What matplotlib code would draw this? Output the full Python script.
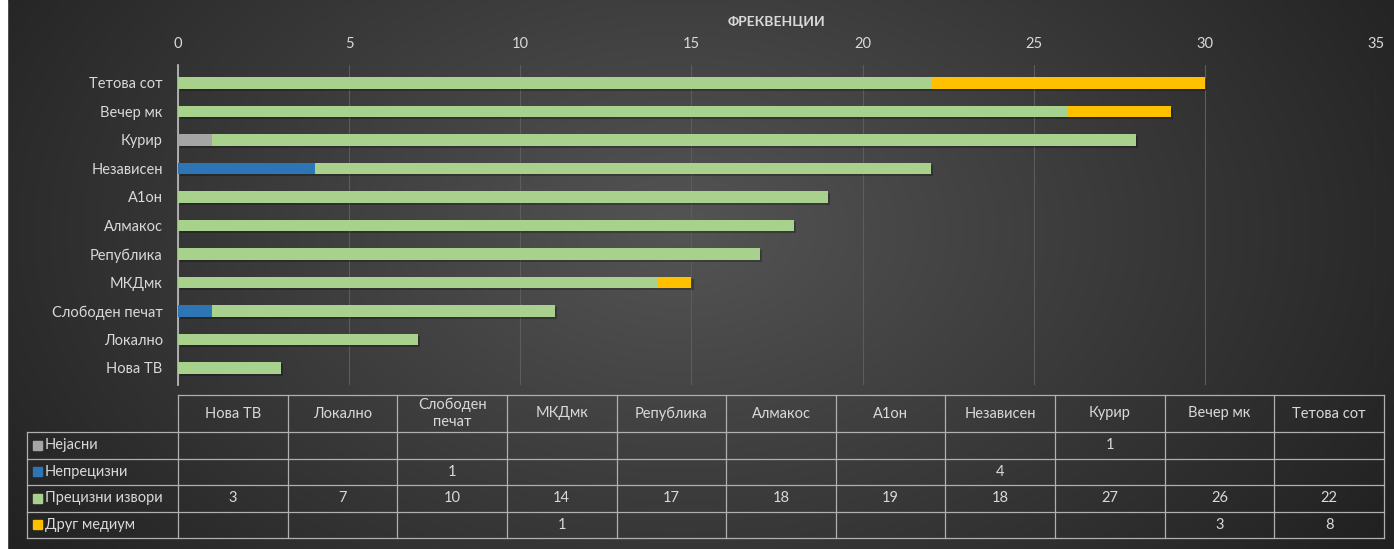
import numpy as np
import matplotlib
matplotlib.use("Agg")
import matplotlib.pyplot as plt
from matplotlib.patches import Rectangle
import matplotlib.patheffects as pe

plt.rcParams['font.family'] = ['Lato', 'DejaVu Sans']

# ---- data ----
outlets = ["Нова ТВ", "Локално", "Слободен печат", "МКДмк", "Република",
           "Алмакос", "А1он", "Независен", "Курир", "Вечер мк", "Тетова сот"]
table_headers = ["Нова ТВ", "Локално", "Слободен\nпечат", "МКДмк", "Република",
                 "Алмакос", "А1он", "Независен", "Курир", "Вечер мк", "Тетова сот"]
series_names = ["Нејасни", "Непрецизни", "Прецизни извори", "Друг медиум"]
unclear = [0, 0, 0, 0, 0, 0, 0, 0, 1, 0, 0]
imprecise = [0, 0, 1, 0, 0, 0, 0, 4, 0, 0, 0]
precise = [3, 7, 10, 14, 17, 18, 19, 18, 27, 26, 22]
other_media = [0, 0, 0, 1, 0, 0, 0, 0, 0, 3, 8]
colors = ["#A5A5A5", "#2E75B6", "#A9D18E", "#FFC000"]
x_ticks = [0, 5, 10, 15, 20, 25, 30, 35]
axis_title = "ФРЕКВЕНЦИИ"

W, H = 1394, 549
fig = plt.figure(figsize=(W / 100, H / 100), dpi=100)
txt_col = '#d9d9d9'
fs = 10.5

# ---- background radial gradient ----
bg = fig.add_axes([0, 0, 1, 1])
yy, xx = np.mgrid[0:H, 0:W]
cx, cy = 680, 230
r = np.sqrt(((xx - cx) / 800.0) ** 2 + ((yy - cy) / 520.0) ** 2)
v = np.clip(0.33 - 0.19 * r, 0.13, 0.35)
img = np.dstack([v, v, v])
bg.imshow(img, extent=[0, W, H, 0], aspect='auto')
bg.add_patch(Rectangle((0, 0), 7, H, color='white', zorder=3))
bg.set_xlim(0, W)
bg.set_ylim(H, 0)
bg.axis('off')

# ---- main bar axes ----
left, right, top, bottom = 178, 1376, 65, 385
ax = fig.add_axes([left / W, 1 - bottom / H, (right - left) / W, (bottom - top) / H])
ax.patch.set_alpha(0)
y = np.arange(len(outlets))
series = [unclear, imprecise, precise, other_media]
base = np.zeros(len(outlets))
shadow = [pe.SimplePatchShadow(offset=(1.5, -1.5), shadow_rgbFace='black', alpha=0.25), pe.Normal()]
for vals, c in zip(series, colors):
    vals = np.array(vals, dtype=float)
    bars = ax.barh(y, vals, left=base, height=0.4, color=c, zorder=3, linewidth=0)
    for b in bars:
        b.set_path_effects(shadow)
    base += vals
ax.set_xlim(0, 35)
ax.set_ylim(-0.6, len(outlets) - 1 + 0.63)
ax.set_yticks(y)
ax.set_yticklabels(outlets)
ax.set_xticks(x_ticks)
ax.xaxis.tick_top()
ax.tick_params(axis='x', colors=txt_col, labelsize=fs, length=0, pad=10)
ax.tick_params(axis='y', colors=txt_col, labelsize=fs, length=0, pad=11)
ax.grid(axis='x', color='#5c5c5c', linewidth=0.8, zorder=0)
for s in ['top', 'right', 'bottom']:
    ax.spines[s].set_visible(False)
ax.spines['left'].set_color('#bfbfbf')
ax.spines['left'].set_linestyle((0, (2, 1)))
ax.spines['left'].set_linewidth(1.2)
fig.text((left + right) / 2 / W, 1 - 22 / H, axis_title, color=txt_col,
         fontsize=10, fontweight='bold', ha='center', va='center')

# ---- data table ----
tb = bg
col_w = (1384 - 178) / 11.0
x0 = 178
lab_x0 = 27
hdr_top, hdr_bot = 395, 432
row_h = 26.5
line_kw = dict(color='#b0b0b0', linewidth=0.9, zorder=4)
table_bottom = hdr_bot + 4 * row_h
tb.plot([x0, x0 + 11 * col_w], [hdr_top, hdr_top], **line_kw)
for i in range(5):
    yl = hdr_bot + i * row_h
    tb.plot([lab_x0, x0 + 11 * col_w], [yl, yl], **line_kw)
for j in range(12):
    xl = x0 + j * col_w
    tb.plot([xl, xl], [hdr_top, table_bottom], **line_kw)
tb.plot([lab_x0, lab_x0], [hdr_bot, table_bottom], **line_kw)
for j, h in enumerate(table_headers):
    tb.text(x0 + (j + 0.5) * col_w, (hdr_top + hdr_bot) / 2, h, color=txt_col,
            fontsize=fs, ha='center', va='center', linespacing=1.3, zorder=5)
for i, (name, vals, c) in enumerate(zip(series_names, series, colors)):
    yc = hdr_bot + (i + 0.5) * row_h
    tb.add_patch(Rectangle((33, yc - 4.5), 9, 9, color=c, zorder=5))
    tb.text(45, yc, name, color=txt_col, fontsize=fs, ha='left', va='center', zorder=5)
    for j, v in enumerate(vals):
        if v:
            tb.text(x0 + (j + 0.5) * col_w, yc, str(v), color=txt_col, fontsize=fs,
                    ha='center', va='center', zorder=5)

fig.savefig("out.png", dpi=100)
